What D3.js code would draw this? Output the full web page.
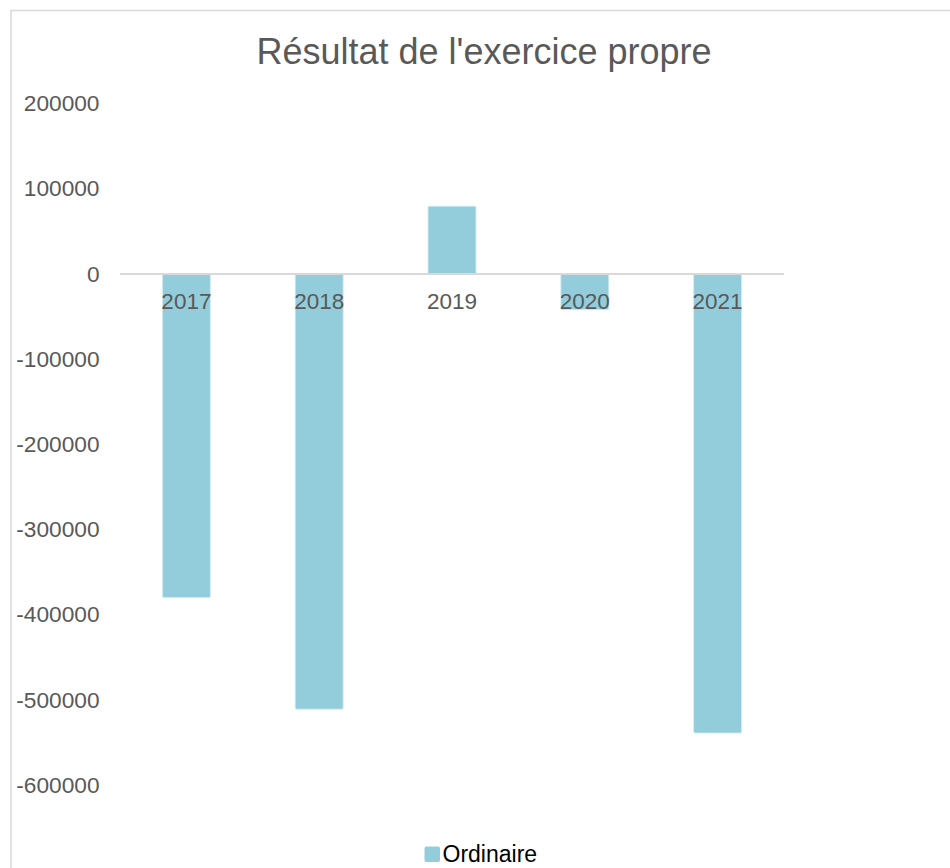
<!DOCTYPE html>
<html>
<head>
<meta charset="utf-8">
<script src="https://cdn.jsdelivr.net/npm/d3@7"></script>
<style>
  html, body { margin: 0; padding: 0; background: #ffffff; }
  svg { display: block; font-family: "Liberation Sans", Arial, sans-serif; }
</style>
</head>
<body>
<script>
const title = "Résultat de l'exercice propre";
const categories = ["2017", "2018", "2019", "2020", "2021"];
const seriesName = "Ordinaire";
const values = [-380000, -511000, 79500, -42000, -539000];
const yTicks = [200000, 100000, 0, -100000, -200000, -300000, -400000, -500000, -600000];

const W = 950, H = 868;
const svg = d3.select("body").append("svg").attr("width", W).attr("height", H);

// chart frame (cropped on right and bottom)
svg.append("rect")
  .attr("x", 11).attr("y", 10.5)
  .attr("width", W + 20).attr("height", H + 20)
  .attr("fill", "#ffffff").attr("stroke", "#d9d9d9").attr("stroke-width", 1.5);

const x = d3.scaleBand().domain(categories).range([120, 784])
  .paddingInner(0.639).paddingOuter(0.3195);
const y = d3.scaleLinear().domain([-600000, 200000]).range([785, 103.5]);

// title
svg.append("text")
  .attr("x", 484).attr("y", 64)
  .attr("text-anchor", "middle")
  .attr("font-size", 36).attr("fill", "#595959")
  .text(title);

// y axis labels
const yAxis = d3.axisLeft(y).tickValues(yTicks).tickSize(0).tickPadding(0)
  .tickFormat(d => String(d));
const gy = svg.append("g").attr("transform", "translate(99.5,0)").call(yAxis);
gy.select(".domain").remove();
gy.selectAll("text")
  .attr("font-family", "'Liberation Sans', Arial, sans-serif")
  .attr("font-size", 22.7).attr("fill", "#595959");

// bars
svg.append("g").selectAll("rect").data(values).join("rect")
  .attr("x", (d, i) => x(categories[i]))
  .attr("width", x.bandwidth())
  .attr("y", d => y(Math.max(0, d)))
  .attr("height", d => Math.abs(y(d) - y(0)))
  .attr("rx", 1.5)
  .attr("fill", "#93cddc")
  .attr("stroke", "#d4ecf2").attr("stroke-width", 0.8);

// zero line
svg.append("line")
  .attr("x1", x.range()[0]).attr("x2", x.range()[1])
  .attr("y1", y(0)).attr("y2", y(0))
  .attr("stroke", "#d9d9d9").attr("stroke-width", 2);

// x axis labels
const xAxis = d3.axisBottom(x).tickSize(0).tickPadding(0);
const gx = svg.append("g").attr("transform", `translate(0,${y(0)})`).call(xAxis);
gx.select(".domain").remove();
gx.selectAll("text")
  .attr("font-family", "'Liberation Sans', Arial, sans-serif")
  .attr("font-size", 22.5).attr("fill", "#595959")
  .attr("dy", null).attr("y", 35);

// legend
const lg = svg.append("g");
lg.append("rect")
  .attr("x", 424.5).attr("y", 846.5).attr("width", 15.5).attr("height", 15.5)
  .attr("rx", 2).attr("fill", "#93cddc");
lg.append("text")
  .attr("x", 442.5).attr("y", 861.5)
  .attr("font-size", 23).attr("fill", "#000000")
  .text(seriesName);
</script>
</body>
</html>
